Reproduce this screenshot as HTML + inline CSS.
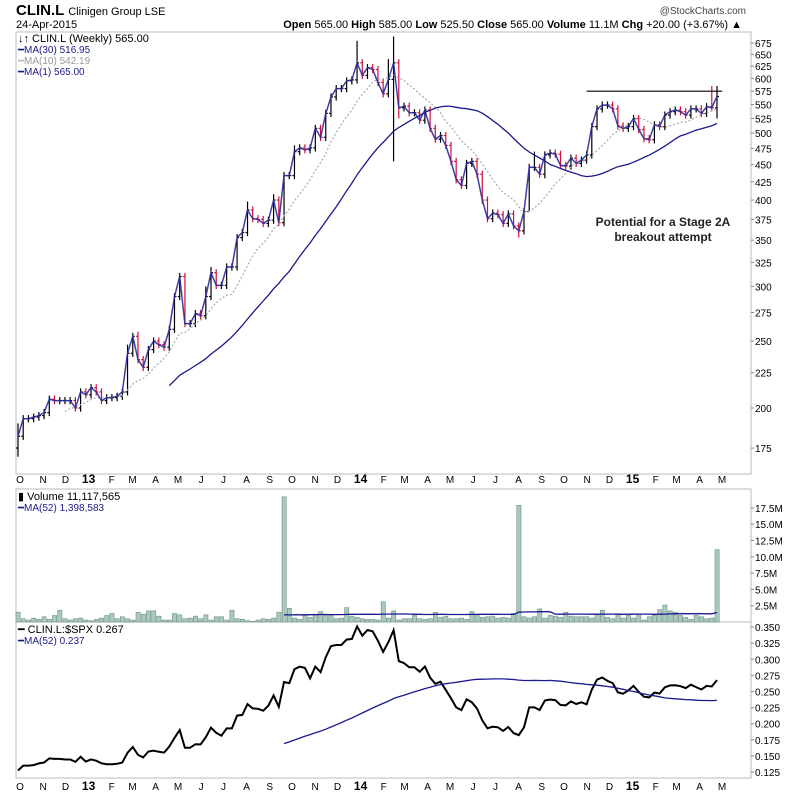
<!DOCTYPE html>
<html><head><meta charset="utf-8"><style>
body{margin:0;background:#fff;width:800px;height:795px;overflow:hidden;font-family:"Liberation Sans",sans-serif}
svg text{font-family:"Liberation Sans",sans-serif}
</style></head><body>
<svg id="c" width="800" height="795" xmlns="http://www.w3.org/2000/svg">
<text x="16" y="15" font-size="15" font-weight="bold">CLIN.L <tspan font-size="11" font-weight="normal">Clinigen Group LSE</tspan></text>
<text x="16" y="28" font-size="11">24-Apr-2015</text>
<text x="746" y="14" font-size="10" text-anchor="end" fill="#444">@StockCharts.com</text>
<text x="742" y="28" font-size="11" text-anchor="end"><tspan font-weight="bold">Open</tspan> 565.00 <tspan font-weight="bold">High</tspan> 585.00 <tspan font-weight="bold">Low</tspan> 525.50 <tspan font-weight="bold">Close</tspan> 565.00 <tspan font-weight="bold">Volume</tspan> 11.1M <tspan font-weight="bold">Chg</tspan> +20.00 (+3.67%) ▲</text>
<rect x="16" y="32" width="735" height="442" fill="none" stroke="#bbb"/>
<rect x="16" y="489" width="735" height="133" fill="none" stroke="#bbb"/>
<rect x="16" y="622" width="735" height="156" fill="none" stroke="#bbb"/>
<g id="price"></g><g id="vol"></g><g id="ratio"></g><g id="axes"></g>
<text x="18" y="42" font-size="11">↓↑ CLIN.L (Weekly) 565.00</text>
<text x="18" y="53" font-size="10" fill="#1a1a8c">━MA(30) 516.95</text>
<text x="18" y="64" font-size="10" fill="#999">┅MA(10) 542.19</text>
<text x="18" y="75" font-size="10" fill="#1a1a8c">━MA(1) 565.00</text>
<text x="18" y="500" font-size="11">▮ Volume 11,117,565</text>
<text x="18" y="511" font-size="10" fill="#1a1a8c">━MA(52) 1,398,583</text>
<text x="18" y="633" font-size="11">━ CLIN.L:$SPX 0.267</text>
<text x="18" y="644" font-size="10" fill="#1a1a8c">━MA(52) 0.237</text>
<text x="663" y="226" font-size="12" font-weight="bold" text-anchor="middle" fill="#222"><tspan x="663">Potential for a Stage 2A</tspan><tspan x="663" dy="15">breakout attempt</tspan></text>
</svg>
<script>
const closes=[182,193,193,194,195,197,206,205,205,205,205,200,211,209,214,211,205,207,207,208,211,240,254,235,229,243,250,247,245,260,290,310,265,265,274,272,290,314,301,301,320,320,353,359,387,376,375,370,374,400,371,434,434,470,476,473,476,508,493,534,564,580,580,595,597,632,606,622,618,592,570,598,632,544,547,535,535,522,540,508,490,496,480,455,428,420,452,455,436,400,376,383,381,370,382,367,361,385,446,446,436,465,468,466,449,448,460,452,457,465,511,542,549,549,542,512,508,511,525,506,491,489,514,511,531,537,540,537,531,542,542,534,546,544,565];
const volumes=[1.5,0.5,0.3,0.6,0.4,0.8,0.4,1.0,1.8,0.5,0.3,0.5,0.6,0.3,0.2,0.4,0.6,1.0,1.3,0.5,0.8,0.5,0.3,1.5,1.2,1.7,1.7,0.9,0.3,0.3,1.3,1.1,0.5,0.6,0.9,0.5,1.1,0.3,0.8,0.8,0.3,1.8,0.5,0.4,0.2,0.1,0.3,0.5,0.4,0.6,1.5,19.2,2.1,0.6,0.4,1.0,0.7,1.2,1.6,1.0,1.1,0.5,0.6,2.2,0.9,0.7,0.5,0.4,0.4,0.3,3.1,0.6,1.7,0.3,0.5,0.5,1.0,0.5,0.4,0.5,1.5,0.7,0.9,0.5,0.5,0.6,0.4,1.6,1.2,0.7,0.8,0.9,0.6,0.7,0.6,1.3,17.9,0.8,0.6,0.8,2.0,0.6,1.0,0.9,0.7,1.5,0.9,0.8,0.8,0.8,0.6,1.2,1.8,0.7,0.5,1.2,0.6,1.0,0.6,1.2,0.3,0.8,1.0,1.9,2.6,1.7,1.5,1.0,0.7,0.4,1.0,0.8,0.5,0.6,11.1];
const spxMonthly=[1430,1410,1420,1480,1510,1550,1580,1630,1620,1660,1680,1640,1650,1760,1800,1800,1830,1860,1870,1900,1950,1960,1980,1970,1960,2020,2060,2030,2070,2080,2110];
const wickHigh={0:190,21:247,23:258,36:300,37:320,44:398,49:408,53:480,65:680,72:690,71:640,99:470,133:585,134:585};
const wickLow={0:170,72:455,73:525,96:353,98:385,101:430,134:525};
const priceTicks=[175,200,225,250,275,300,325,350,375,400,425,450,475,500,525,550,575,600,625,650,675];
const volTicks=[2.5,5,7.5,10,12.5,15,17.5];
const ratioTicks=[0.125,0.15,0.175,0.2,0.225,0.25,0.275,0.3,0.325,0.35];
const monthLabels=["O","N","D","13","F","M","A","M","J","J","A","S","O","N","D","14","F","M","A","M","J","J","A","S","O","N","D","15","F","M","A","M"];
const breakoutLevel=575;

const NS="http://www.w3.org/2000/svg";
const N=closes.length, X0=18, X1=717, step=(X1-X0)/(N-1);
const xAt=i=>X0+i*step;
const yP=p=>408-300*Math.log(p/200);
const yV=v=>622-v*6.52;
const yR=r=>772-(r-0.125)*644;
const start=new Date(2012,9,5);
function mk(tag,attrs,parent){const e=document.createElementNS(NS,tag);for(const k in attrs)e.setAttribute(k,attrs[k]);parent.appendChild(e);return e;}
const gP=document.getElementById('price'),gV=document.getElementById('vol'),gR=document.getElementById('ratio'),gA=document.getElementById('axes');
function ma(arr,n){return arr.map((v,i)=>i<n-1?null:arr.slice(i-n+1,i+1).reduce((a,b)=>a+b,0)/n);}
function path(arr,yf,from){let d='';arr.forEach((v,i)=>{if(v==null||i<from)return;d+=(d?'L':'M')+xAt(i).toFixed(1)+' '+yf(v).toFixed(1);});return d;}

closes.forEach((c,i)=>{
  const o=i?closes[i-1]:175;
  const hi=wickHigh[i]!==undefined?wickHigh[i]:Math.max(o,c)*1.012;
  const lo=wickLow[i]!==undefined?wickLow[i]:Math.min(o,c)*0.988;
  const col=c<o?'#d0103a':'#000';
  const x=xAt(i);
  const g=mk('g',{},gP);
  
  
  mk('line',{x1:x,x2:x,y1:yP(hi),y2:yP(lo),stroke:col,'stroke-width':1.2},g);
  mk('line',{x1:x-2,x2:x,y1:yP(o),y2:yP(o),stroke:col,'stroke-width':1.2},g);
  mk('line',{x1:x,x2:x+2,y1:yP(c),y2:yP(c),stroke:col,'stroke-width':1.2},g);
});
const ma10=ma(closes,10),ma30=ma(closes,30);
let e=mk('path',{d:path(ma10,yP,0),fill:'none',stroke:'#aaa','stroke-width':1.2,'stroke-dasharray':'2,2'},gP);


e=mk('path',{d:path(ma30,yP,0),fill:'none',stroke:'#1a1a8c','stroke-width':1.3},gP);


e=mk('path',{d:path(closes,yP,0),fill:'none',stroke:'#2a2aa0','stroke-width':1.5,'stroke-opacity':0.9},gP);


e=mk('line',{x1:xAt(109),x2:xAt(135),y1:yP(breakoutLevel),y2:yP(breakoutLevel),stroke:'#000','stroke-width':1.2},gP);



volumes.forEach((v,i)=>{
  const r=mk('rect',{x:xAt(i)-2,y:yV(v),width:4.2,height:622-yV(v),fill:'#a9c9bd',stroke:'#6f8f85','stroke-width':0.6},gV);
  
  
});
e=mk('path',{d:path(ma(volumes,52),yV,0),fill:'none',stroke:'#1a1a8c','stroke-width':1.3},gV);



const ratios=closes.map((c,i)=>{const d=new Date(start.getTime()+i*7*864e5);const m=(d.getFullYear()-2012)*12+d.getMonth()-9;return c/spxMonthly[Math.min(m,spxMonthly.length-1)];});
e=mk('path',{d:path(ratios,yR,0),fill:'none',stroke:'#000','stroke-width':2},gR);


e=mk('path',{d:path(ma(ratios,52),yR,0),fill:'none',stroke:'#1a1a8c','stroke-width':1.3},gR);



function lbl(x,y,t,anchor,size,bold){const el=mk('text',{x:x,y:y,'font-size':size||10,'text-anchor':anchor||'start'},gA);if(bold)el.setAttribute('font-weight','bold');el.textContent=t;return el;}
priceTicks.forEach(p=>{const y=yP(p);mk('line',{x1:751,x2:754,y1:y,y2:y,stroke:'#888'},gA);const t=lbl(755,y+4,String(p));});
volTicks.forEach(v=>{const y=yV(v);mk('line',{x1:751,x2:754,y1:y,y2:y,stroke:'#888'},gA);const t=lbl(755,y+4,v.toFixed(1)+'M');});
ratioTicks.forEach(r=>{const y=yR(r);mk('line',{x1:751,x2:754,y1:y,y2:y,stroke:'#888'},gA);const t=lbl(755,y+4,r.toFixed(3));});
monthLabels.forEach((m,k)=>{
  const d=new Date(2012,9+k,1);const days=(d-start)/864e5;const x=X0+days/7*step+5;
  const big=m.length>1;
  [483,790].forEach(y=>{const t=lbl(x,y,m,'middle',big?12:10,big);});
});
</script>
</body></html>
